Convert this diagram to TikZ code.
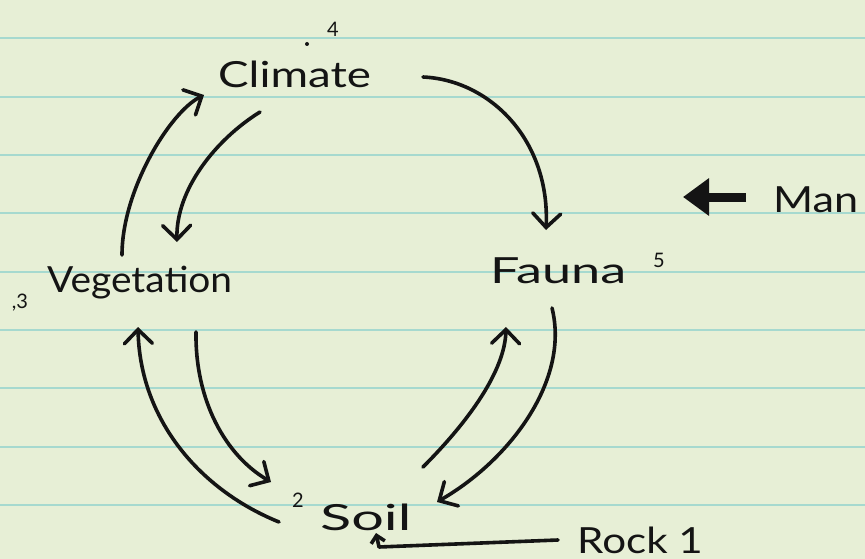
\documentclass[tikz,border=0pt]{standalone}
\usepackage{fontspec}
\setmainfont{Lato}
\usetikzlibrary{arrows.meta,calc}
\definecolor{paper}{HTML}{E7EFD6}
\definecolor{rulecol}{HTML}{A6D9CF}
\definecolor{ink}{HTML}{141414}
\begin{document}
\begin{tikzpicture}[x=1pt,y=-1pt,
  lbl/.style={text=ink,font=\fontsize{36}{40}\selectfont,inner sep=0pt,anchor=base west},
  supn/.style={text=ink,font=\fontsize{20}{22}\selectfont,inner sep=0pt},
  arr/.style={draw=ink,line width=3.6pt,line cap=round,line join=round,
    -{Straight Barb[length=14pt,width=28pt,line cap=round]}},
  bigarr/.style={draw=ink,line width=9pt,-{Triangle[length=26pt,width=36pt]}}]
\fill[paper] (0,0) rectangle (865,559);
\useasboundingbox (0,0) rectangle (865,559);
\foreach \y in {38,97,155,213,272,330,388,447,505}
  \draw[rulecol,line width=2pt] (0,\y) -- (865,\y);
% labels
\node[lbl] (climate) at (218,88) {\scalebox{1.27}[1]{Climate}};
\node[lbl] (veg) at (47,292) {\scalebox{1.08}[1]{Vegetation}};
\node[lbl] (fauna) at (490,283) {\scalebox{1.45}[1]{Fauna}};
\node[lbl] (soil) at (320,530) {\scalebox{1.6}[1]{Soil}};
\node[lbl] (man) at (773,212) {\scalebox{1.2}[1]{Man}};
\node[lbl] (rock) at (577,553) {\scalebox{1.17}[1]{Rock 1}};
% small numbers
\node[supn] (n4) at (333,29) {4};
\fill[ink] (307,44) circle (2);
\node[supn] (n5) at (659,260) {5};
\node[supn] (n3) at (20,303) {,3};
\node[supn] (n2) at (298,500) {2};
% arrows
\draw[arr] ($(climate.base west)+(205,-11)$) .. controls (490,80) and (550,140) .. ($(fauna.base west)+(56,-53)$);
\draw[arr] ($(veg.base west)+(75,-37)$) .. controls (122,190) and (170,112) .. ($(climate.base west)+(-14,7)$);
\draw[arr] ($(climate.base west)+(42,24)$) .. controls (215,140) and (176,190) .. ($(veg.base west)+(130,-50)$);
\draw[arr] ($(veg.base west)+(149,40)$) .. controls (195,400) and (225,455) .. ($(soil.base west)+(-49,-48)$);
\draw[arr] ($(soil.base west)+(-41,-8)$) .. controls (200,490) and (140,420) .. ($(veg.base west)+(91,35)$);
\draw[arr] ($(soil.base west)+(103,-63)$) .. controls (470,420) and (505,370) .. ($(fauna.base west)+(16,44)$);
\draw[arr] ($(fauna.base west)+(62,25)$) .. controls (570,380) and (510,460) .. ($(soil.base west)+(117,-28)$);
\draw[draw=ink,line width=3.6pt,line cap=round,line join=round,-{Straight Barb[length=7pt,width=14pt]}]
  ($(rock.base west)+(-19,-13)$) -- (379,547) -- ($(soil.base west)+(56,3)$);
\draw[bigarr] ($(man.base west)+(-27,-15)$) -- ($(man.base west)+(-90,-15)$);
\end{tikzpicture}
\end{document}
